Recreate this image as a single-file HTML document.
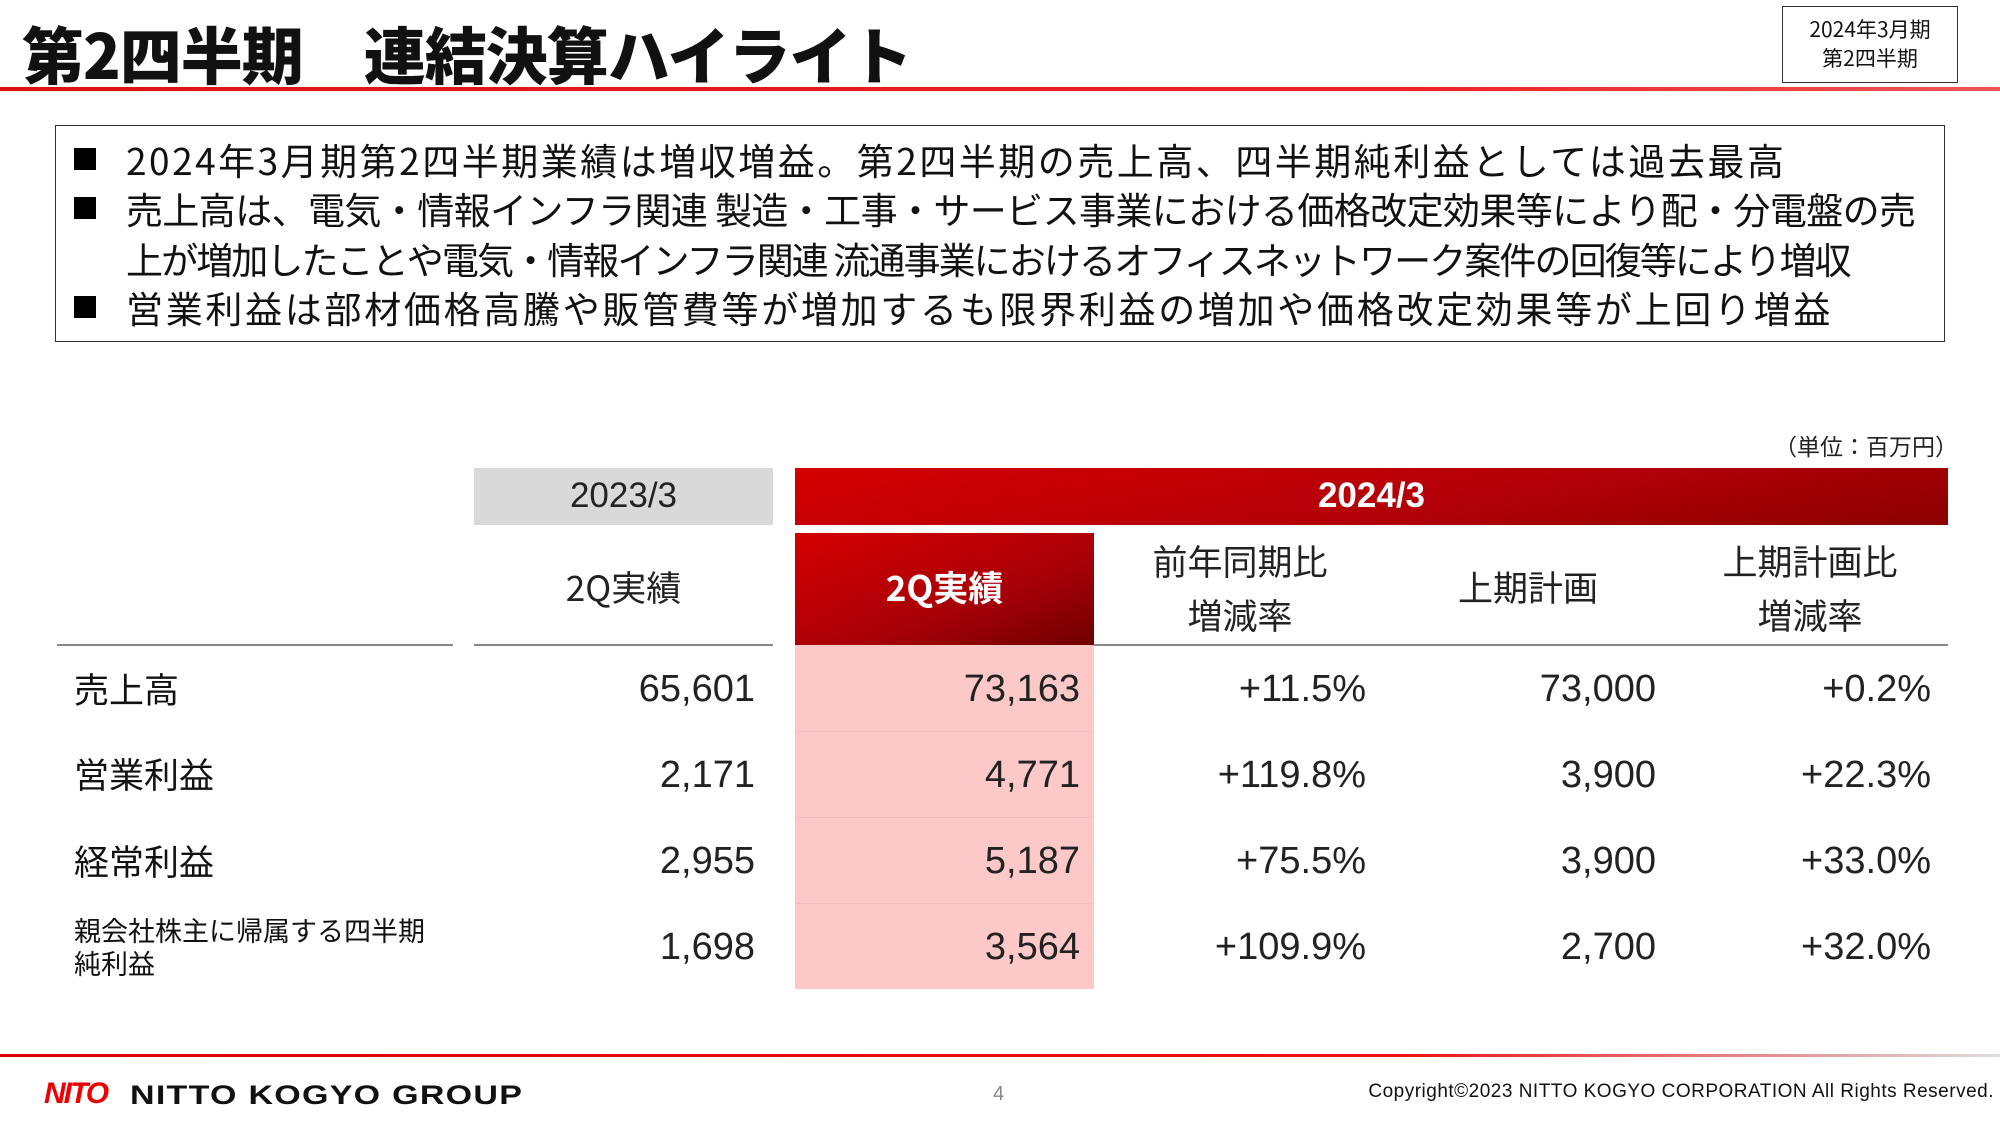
<!DOCTYPE html>
<html><head><meta charset="utf-8">
<style>
*{margin:0;padding:0;box-sizing:border-box}
body{width:2000px;height:1125px;background:#fff;position:relative;overflow:hidden;font-family:"Liberation Sans","Noto Sans CJK JP",sans-serif;color:#111}
.a{position:absolute;white-space:nowrap}
.jp{font-family:"Noto Sans CJK JP","Liberation Sans",sans-serif}
.num{font-size:38px;text-align:right;width:300px;line-height:40px;color:#222}
.lbl{font-size:35px;left:74px;line-height:40px}
.hd{font-size:35px;text-align:center;width:300px;line-height:54px;color:#222}
.bl{font-size:37px;line-height:50px}
.sq{position:absolute;width:22px;height:22px;background:#000;left:74px}
</style></head><body>
<div class="a jp" style="left:22px;top:12px;font-size:62px;font-weight:900;line-height:80px;letter-spacing:-1px">第2四半期　連結決算ハイライト</div>
<div class="a" style="left:0;top:87px;width:2000px;height:4px;background:linear-gradient(90deg,#d11 0%,#e22 70%,#e55 100%)"></div>
<div class="a jp" style="left:1782px;top:6px;width:176px;height:77px;border:1.5px solid #333;font-size:21px;line-height:29px;text-align:center;padding-top:8px">2024年3月期<br>第2四半期</div>

<div class="a" style="left:55px;top:125px;width:1890px;height:217px;border:1.5px solid #333"></div>
<div class="sq" style="top:148px"></div>
<div class="sq" style="top:197px"></div>
<div class="sq" style="top:296px"></div>
<div class="a jp bl" style="left:126px;top:134px;letter-spacing:2.5px">2024年3月期第2四半期業績は増収増益。第2四半期の売上高、四半期純利益としては過去最高</div>
<div class="a jp bl" style="left:126px;top:183px;letter-spacing:-0.6px">売上高は、電気・情報インフラ関連 製造・工事・サービス事業における価格改定効果等により配・分電盤の売</div>
<div class="a jp bl" style="left:126px;top:233px;letter-spacing:-1.9px">上が増加したことや電気・情報インフラ関連 流通事業におけるオフィスネットワーク案件の回復等により増収</div>
<div class="a jp bl" style="left:126px;top:282px;letter-spacing:2.7px">営業利益は部材価格高騰や販管費等が増加するも限界利益の増加や価格改定効果等が上回り増益</div>

<div class="a jp" style="right:42px;top:430px;font-size:23px;line-height:30px;color:#222">（単位：百万円）</div>

<div class="a" style="left:474px;top:468px;width:299px;height:57px;background:#d9d9d9"></div>
<div class="a hd" style="left:474px;top:469px;width:299px">2023/3</div>
<div class="a" style="left:795px;top:468px;width:1153px;height:57px;background:linear-gradient(170deg,#d40000 0%,#b00008 60%,#8a0000 100%)"></div>
<div class="a hd" style="left:795px;top:469px;width:1153px;color:#fff;font-weight:bold">2024/3</div>
<div class="a" style="left:795px;top:533px;width:299px;height:112px;background:linear-gradient(160deg,#d40000 0%,#a80008 60%,#6e0000 100%)"></div>

<div class="a" style="left:795px;top:645px;width:299px;height:344px;background:#fcc8c8"></div>
<div class="a" style="left:795px;top:731px;width:299px;height:1px;background:#f6bcbc"></div>
<div class="a" style="left:795px;top:817px;width:299px;height:1px;background:#f6bcbc"></div>
<div class="a" style="left:795px;top:903px;width:299px;height:1px;background:#f6bcbc"></div>

<div class="a" style="left:57px;top:644px;width:396px;height:2px;background:#888"></div>
<div class="a" style="left:474px;top:644px;width:299px;height:2px;background:#888"></div>
<div class="a" style="left:1094px;top:644px;width:854px;height:2px;background:#888"></div>

<div class="a hd jp" style="left:474px;top:560px;width:299px">2Q実績</div>
<div class="a hd jp" style="left:795px;top:560px;width:299px;color:#fff;font-weight:bold">2Q実績</div>
<div class="a hd jp" style="left:1090px;top:534px">前年同期比</div>
<div class="a hd jp" style="left:1090px;top:588px">増減率</div>
<div class="a hd jp" style="left:1378px;top:560px">上期計画</div>
<div class="a hd jp" style="left:1660px;top:534px">上期計画比</div>
<div class="a hd jp" style="left:1660px;top:588px">増減率</div>

<div class="a jp lbl" style="top:669px">売上高</div>
<div class="a jp lbl" style="top:754px">営業利益</div>
<div class="a jp lbl" style="top:841px">経常利益</div>
<div class="a jp" style="left:74px;top:913px;font-size:27px;line-height:33px">親会社株主に帰属する四半期<br>純利益</div>

<div class="a num" style="left:455px;top:669px">65,601</div>
<div class="a num" style="left:780px;top:669px">73,163</div>
<div class="a num" style="left:1066px;top:669px">+11.5%</div>
<div class="a num" style="left:1356px;top:669px">73,000</div>
<div class="a num" style="left:1631px;top:669px">+0.2%</div>

<div class="a num" style="left:455px;top:755px">2,171</div>
<div class="a num" style="left:780px;top:755px">4,771</div>
<div class="a num" style="left:1066px;top:755px">+119.8%</div>
<div class="a num" style="left:1356px;top:755px">3,900</div>
<div class="a num" style="left:1631px;top:755px">+22.3%</div>

<div class="a num" style="left:455px;top:841px">2,955</div>
<div class="a num" style="left:780px;top:841px">5,187</div>
<div class="a num" style="left:1066px;top:841px">+75.5%</div>
<div class="a num" style="left:1356px;top:841px">3,900</div>
<div class="a num" style="left:1631px;top:841px">+33.0%</div>

<div class="a num" style="left:455px;top:927px">1,698</div>
<div class="a num" style="left:780px;top:927px">3,564</div>
<div class="a num" style="left:1066px;top:927px">+109.9%</div>
<div class="a num" style="left:1356px;top:927px">2,700</div>
<div class="a num" style="left:1631px;top:927px">+32.0%</div>

<div class="a" style="left:0;top:1054px;width:2000px;height:3px;background:linear-gradient(90deg,#d00 0%,#e11 70%,#ddd 100%)"></div>
<div class="a" style="left:44px;top:1078px;font-size:30px;font-weight:900;color:#e00;font-style:italic;line-height:32px;letter-spacing:-2px">NITO</div>
<div class="a" style="left:130px;top:1080px;font-size:27px;font-weight:900;line-height:30px;letter-spacing:1px;transform:scaleX(1.26);transform-origin:left">NITTO KOGYO GROUP</div>
<div class="a" style="left:993px;top:1083px;font-size:20px;color:#888">4</div>
<div class="a" style="right:6px;top:1080px;font-size:19px;line-height:24px;color:#111;letter-spacing:0.5px">Copyright©2023 NITTO KOGYO CORPORATION All Rights Reserved.</div>
</body></html>
